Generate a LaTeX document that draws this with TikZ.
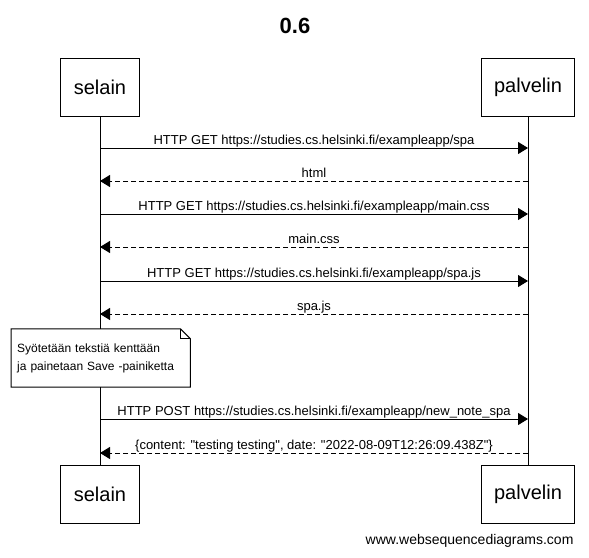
\documentclass[tikz,border=0pt]{standalone}
\usepackage{fontspec}
\setmainfont{Liberation Sans}[Ligatures=TeXOff]
\usetikzlibrary{arrows.meta}

\begin{document}
\begin{tikzpicture}[x=1pt, y=-1pt, >={Triangle[length=10pt, width=12pt]},
    actor/.style={rectangle, draw, line width=1pt, fill=white, minimum height=58pt, inner xsep=13pt, font=\fontsize{20}{24}\selectfont},
    msg/.style={->, line width=1pt},
    reply/.style={->, line width=1pt, dash pattern=on 5pt off 3pt},
    lbl/.style={anchor=base, yshift=4pt, inner sep=0pt, font=\fontsize{13}{16}\selectfont},
    notebox/.style={fill=white, anchor=west, text width=167pt, inner xsep=6pt, minimum height=58pt, align=left, font=\fontsize{12}{18}\selectfont}]
    \useasboundingbox (0,0) rectangle (589,557);

    \node[font=\bfseries\fontsize{22}{26}\selectfont] (title) at (295,26) {0.6};

    \node[actor] (s1) at (100,87) {selain};
    \node[actor] (p1) at (528,87) {palvelin};
    \node[actor] (s2) at (100,494.5) {selain};
    \node[actor] (p2) at (528,494.5) {palvelin};

    % lifelines
    \draw[line width=1pt] (s1) -- (s2);
    \draw[line width=1pt] (p1) -- (p2);

    \foreach \n/\y in {1/148, 2/181, 3/214, 4/247, 5/281, 6/314, 7/419, 8/453} {
        \coordinate (a\n) at (100,\y);
        \coordinate (b\n) at (528,\y);
    }

    \foreach \n/\txt in {1/{HTTP GET https://studies.cs.helsinki.fi/exampleapp/spa},
                         3/{HTTP GET https://studies.cs.helsinki.fi/exampleapp/main.css},
                         5/{HTTP GET https://studies.cs.helsinki.fi/exampleapp/spa.js},
                         7/{HTTP POST https://studies.cs.helsinki.fi/exampleapp/new\_note\_spa}} {
        \draw[msg] (a\n) -- (b\n) node[lbl, midway] {\txt};
    }

    \foreach \n/\txt in {2/html, 4/main.css, 6/spa.js,
                         8/{\{content: "testing testing", date: "2022-08-09T12:26:09.438Z"\}}} {
        \draw[reply] (b\n) -- (a\n) node[lbl, midway] {\txt};
    }

    % note
    \node[notebox] (note) at (11,358) {Syötetään tekstiä kenttään\\ja painetaan Save -painiketta};
    \draw[line width=1pt, line join=miter] (note.north west) -- ([xshift=-10pt]note.north east)
        -- ([yshift=-10pt]note.north east) -- (note.south east) -- (note.south west) -- cycle;
    \draw[line width=1pt] ([xshift=-10pt]note.north east) -- ([xshift=-10pt, yshift=-10pt]note.north east)
        -- ([yshift=-10pt]note.north east);

    \node[anchor=east, font=\fontsize{14}{16}\selectfont] (wsd) at (577,541) {www.websequencediagrams.com};
\end{tikzpicture}
\end{document}
